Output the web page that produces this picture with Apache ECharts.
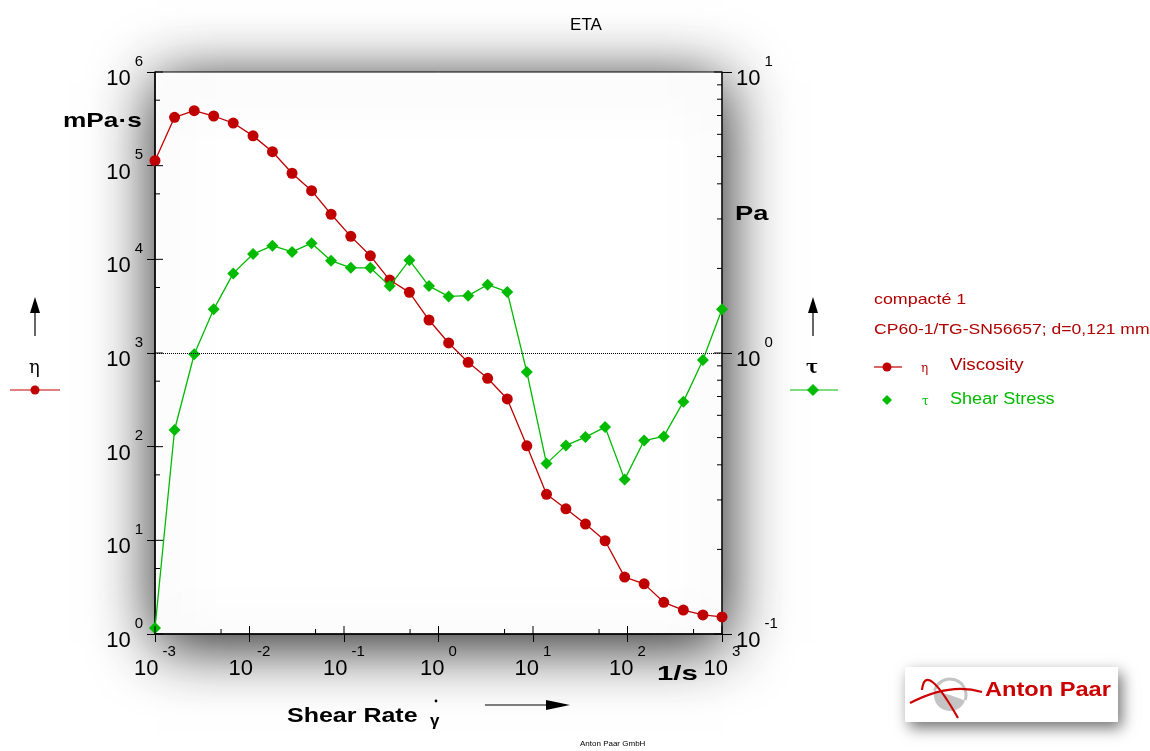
<!DOCTYPE html>
<html>
<head>
<meta charset="utf-8">
<title>ETA</title>
<script src="https://cdn.jsdelivr.net/npm/echarts@6/dist/echarts.min.js"></script>
<style>
  html, body { margin: 0; padding: 0; background: #fff; }
  #chart { width: 1150px; height: 751px; }
</style>
</head>
<body>
<div id="chart"></div>
<script>
// shear rate points, 1/s (same for both series)
var shearRate = [0.001, 0.00161, 0.0026, 0.00418, 0.00673, 0.0109, 0.0175, 0.0282, 0.0454, 0.073,
    0.118, 0.19, 0.305, 0.492, 0.793, 1.28, 2.06, 3.31, 5.34, 8.6,
    13.9, 22.3, 35.9, 57.9, 93.3, 150, 242, 390, 628, 1000];
// viscosity eta, mPa·s
var viscosity = [113000, 328000, 386000, 339000, 285000, 208000, 141000, 83000, 54100, 30300,
    17600, 10900, 6010, 4440, 2250, 1280, 796, 537, 323, 102,
    31, 21.7, 14.9, 9.9, 4.05, 3.43, 2.18, 1.8, 1.6, 1.52];
// shear stress tau, Pa
var shearStress = [0.105, 0.532, 0.99, 1.43, 1.92, 2.25, 2.41, 2.29, 2.46, 2.13,
    2.01, 2.01, 1.73, 2.14, 1.73, 1.59, 1.6, 1.75, 1.65, 0.856,
    0.404, 0.469, 0.502, 0.545, 0.355, 0.488, 0.505, 0.67, 0.944, 1.43];

// tick values
var xDecades = [0.001, 0.01, 0.1, 1, 10, 100, 1000];
var xMinor = [0.005, 0.05, 0.5, 5, 50, 500];
var leftDecades = [1, 10, 100, 1000, 10000, 100000, 1000000];
var leftMinor = [5, 50, 500, 5000, 50000, 500000];
var rightDecades = [0.1, 1, 10];
var rightMinor = [0.2, 0.3, 0.4, 0.5, 0.6, 0.7, 0.8, 0.9, 2, 3, 4, 5, 6, 7, 8, 9];

var RED = '#c00000';
var GREEN = '#00bb00';
var LEGEND_RED = '#b00000';
var FONT = '"Liberation Sans", Arial, sans-serif';

var chart = echarts.init(document.getElementById('chart'));

function pow10Label(value) {
    var e = Math.round(Math.log10(value));
    return '{b|10}{s|' + e + '}';
}

var powRich = {
    b: { fontSize: 22, fontFamily: FONT, color: '#000', lineHeight: 22, padding: [14, 0, 0, 0] },
    s: { fontSize: 15, fontFamily: FONT, color: '#000', lineHeight: 15, padding: [0, 0, 21, 4] }
};

// inward ticks drawn with the axes' own scales
function tickSeries(kind, xIdx, yIdx, data) {
    return {
        type: 'custom',
        xAxisIndex: xIdx,
        yAxisIndex: yIdx,
        silent: true,
        z: 5,
        data: data,
        renderItem: function (params, api) {
            var p = api.coord([api.value(0), api.value(1)]);
            var len = api.value(2) ? 8 : 5;
            var x2 = p[0], y2 = p[1];
            if (kind === 'x') y2 = p[1] - len;
            else if (kind === 'left') x2 = p[0] + len;
            else x2 = p[0] - len;
            return {
                type: 'line',
                shape: { x1: p[0], y1: p[1], x2: x2, y2: y2 },
                style: { stroke: '#000', lineWidth: 1 }
            };
        }
    };
}

// wide text like the original export (stretched horizontally)
function label(text, x, y, font, color, sx) {
    return {
        type: 'text', x: x, y: y, scaleX: sx || 1,
        style: { text: text, font: font, fill: color, verticalAlign: 'middle' }
    };
}

var xTickData = xDecades.map(function (v) { return [v, 1, 1]; })
    .concat(xMinor.map(function (v) { return [v, 1, 0]; }));
var leftTickData = leftDecades.map(function (v) { return [0.001, v, 1]; })
    .concat(leftMinor.map(function (v) { return [0.001, v, 0]; }));
var rightTickData = rightDecades.map(function (v) { return [1000, v, 1]; })
    .concat(rightMinor.map(function (v) { return [1000, v, 0]; }));

var etaData = shearRate.map(function (x, i) { return [x, viscosity[i]]; });
var tauData = shearRate.map(function (x, i) { return [x, shearStress[i]]; });

var option = {
    backgroundColor: '#fff',
    animation: false,
    title: {
        text: 'ETA',
        left: 581,
        top: 12,
        textAlign: 'center',
        textStyle: { fontSize: 17, fontWeight: 'normal', fontFamily: FONT, color: '#000' }
    },
    grid: {
        show: true,
        left: 155,
        top: 72,
        width: 567,
        height: 562,
        backgroundColor: '#fff',
        borderColor: '#000',
        borderWidth: 1,
        shadowBlur: 60,
        shadowColor: 'rgba(0,0,0,0.9)',
        shadowOffsetX: 2,
        shadowOffsetY: 10
    },
    xAxis: {
        type: 'log',
        logBase: 10,
        min: 0.001,
        max: 1000,
        splitNumber: 6,
        axisLine: { lineStyle: { color: '#000', width: 1.5 } },
        axisTick: { show: true, inside: false, length: 8, lineStyle: { color: '#000' } },
        minorTick: { show: false },
        splitLine: { show: false },
        axisLabel: {
            margin: 17,
            formatter: pow10Label,
            rich: powRich,
            showMinLabel: true,
            showMaxLabel: true
        }
    },
    yAxis: [{
        type: 'log',
        logBase: 10,
        min: 1,
        max: 1000000,
        splitNumber: 6,
        position: 'left',
        axisLine: { show: true, lineStyle: { color: '#000', width: 1.5 } },
        axisTick: { show: true, inside: false, length: 8, lineStyle: { color: '#000' } },
        splitLine: { show: false },
        axisLabel: {
            margin: 12,
            formatter: pow10Label,
            rich: powRich,
            showMinLabel: true,
            showMaxLabel: true
        }
    }, {
        type: 'log',
        logBase: 10,
        min: 0.1,
        max: 10,
        splitNumber: 2,
        position: 'right',
        axisLine: { show: true, lineStyle: { color: '#222', width: 1.5 } },
        axisTick: { show: true, inside: false, length: 10, lineStyle: { color: '#000' } },
        splitLine: { show: false },
        axisLabel: {
            margin: 14,
            formatter: pow10Label,
            rich: powRich,
            showMinLabel: true,
            showMaxLabel: true
        }
    }],
    series: [{
        name: 'Viscosity',
        type: 'line',
        yAxisIndex: 0,
        data: etaData,
        symbol: 'circle',
        symbolSize: 11,
        lineStyle: { color: RED, width: 1.3 },
        itemStyle: { color: RED },
        z: 3,
        markLine: {
            silent: true,
            symbol: 'none',
            label: { show: false },
            lineStyle: { color: '#000', type: 'dotted', width: 1 },
            data: [{ yAxis: 1000 }]
        }
    }, {
        name: 'Shear Stress',
        type: 'line',
        yAxisIndex: 1,
        data: tauData,
        symbol: 'diamond',
        symbolSize: 12,
        lineStyle: { color: GREEN, width: 1.3 },
        itemStyle: { color: GREEN },
        z: 4
    },
        tickSeries('x', 0, 0, xTickData),
        tickSeries('left', 0, 0, leftTickData),
        tickSeries('right', 0, 1, rightTickData)
    ],
    graphic: [
        // unit labels
        label('mPa·s', 63, 121, 'bold 21px ' + FONT, '#000', 1.25),
        label('Pa', 735, 214, 'bold 21px ' + FONT, '#000', 1.3),
        label('1/s', 657, 674, 'bold 21px ' + FONT, '#000', 1.4),
        // x axis title
        label('Shear Rate', 287, 716, 'bold 21px ' + FONT, '#000', 1.19),
        label('γ', 430, 721, 'bold 17px ' + FONT, '#000', 1),
        { type: 'circle', shape: { cx: 436, cy: 701, r: 1.4 }, style: { fill: '#000' } },
        { type: 'line', shape: { x1: 485, y1: 705, x2: 550, y2: 705 }, style: { stroke: '#000', lineWidth: 1.2 } },
        { type: 'polygon', shape: { points: [[546, 700], [570, 705], [546, 710]] }, style: { fill: '#000' } },
        // left axis key
        { type: 'line', shape: { x1: 35, y1: 336, x2: 35, y2: 310 }, style: { stroke: '#000', lineWidth: 1.2 } },
        { type: 'polygon', shape: { points: [[30, 313], [35, 297], [40, 313]] }, style: { fill: '#000' } },
        label('η', 29, 368, '18px "DejaVu Serif", serif', '#000', 1),
        { type: 'line', shape: { x1: 10, y1: 390, x2: 60, y2: 390 }, style: { stroke: RED, lineWidth: 1.2 } },
        { type: 'circle', shape: { cx: 35, cy: 390, r: 4.5 }, style: { fill: RED } },
        // right axis key
        { type: 'line', shape: { x1: 813, y1: 336, x2: 813, y2: 310 }, style: { stroke: '#000', lineWidth: 1.2 } },
        { type: 'polygon', shape: { points: [[808, 313], [813, 297], [818, 313]] }, style: { fill: '#000' } },
        label('τ', 806, 368, 'bold 18px "DejaVu Serif", serif', '#000', 1),
        { type: 'line', shape: { x1: 790, y1: 390, x2: 838, y2: 390 }, style: { stroke: GREEN, lineWidth: 1.2 } },
        { type: 'polygon', shape: { points: [[813, 384], [819, 390], [813, 396], [807, 390]] }, style: { fill: GREEN } },
        // legend block
        label('compacté 1', 874, 300, '15px ' + FONT, LEGEND_RED, 1.19),
        label('CP60-1/TG-SN56657; d=0,121 mm', 874, 330, '15px ' + FONT, LEGEND_RED, 1.17),
        { type: 'line', shape: { x1: 874, y1: 367, x2: 902, y2: 367 }, style: { stroke: RED, lineWidth: 1.2 } },
        { type: 'circle', shape: { cx: 887, cy: 367, r: 4.5 }, style: { fill: RED } },
        label('η', 921, 369, '12px "DejaVu Serif", serif', LEGEND_RED, 1),
        label('Viscosity', 950, 366, '16px ' + FONT, LEGEND_RED, 1.17),
        { type: 'polygon', shape: { points: [[887, 395], [892, 400], [887, 405], [882, 400]] }, style: { fill: GREEN } },
        label('τ', 922, 402, '12px "DejaVu Serif", serif', GREEN, 1),
        label('Shear Stress', 950, 400, '16px ' + FONT, GREEN, 1.13),
        // footer
        { type: 'text', left: 580, top: 740, style: { text: 'Anton Paar GmbH', font: '8px ' + FONT, fill: '#000', textAlign: 'center' } },
        // logo box
        { type: 'rect', shape: { x: 905, y: 667, width: 213, height: 55 },
          style: { fill: '#fff', shadowBlur: 14, shadowColor: 'rgba(0,0,0,0.55)', shadowOffsetX: 4, shadowOffsetY: 6 } },
        { type: 'sector', shape: { cx: 950, cy: 695, r: 16, r0: 0, startAngle: 0.35, endAngle: 3.4 }, style: { fill: '#c4c4c4' } },
        { type: 'arc', shape: { cx: 950, cy: 695, r: 16, startAngle: 3.4, endAngle: 6.6 }, style: { stroke: '#c4c4c4', lineWidth: 3, fill: 'none' } },
        { type: 'bezierCurve', shape: { x1: 922, y1: 690, cpx1: 925, cpy1: 660, x2: 958, y2: 718 }, style: { stroke: '#cc0000', lineWidth: 2.2, fill: 'none' } },
        { type: 'bezierCurve', shape: { x1: 910, y1: 703, cpx1: 950, cpy1: 682, x2: 982, y2: 692 }, style: { stroke: '#cc0000', lineWidth: 2.2, fill: 'none' } },
        label('Anton Paar', 985, 690, 'bold 20px ' + FONT, '#cc0000', 1.18)
    ]
};

chart.setOption(option);
</script>
</body>
</html>
